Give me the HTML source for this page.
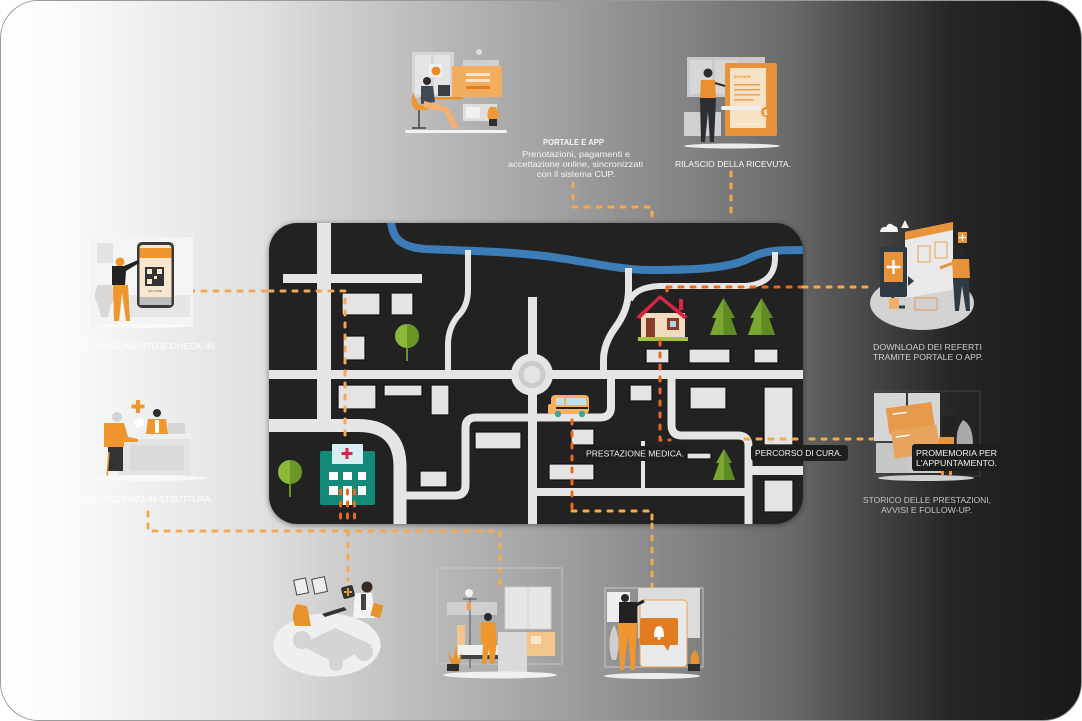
<!DOCTYPE html>
<html><head><meta charset="utf-8">
<style>
html,body{margin:0;padding:0;background:#fff;width:1082px;height:721px;overflow:hidden}
svg{display:block}
text{font-family:"Liberation Sans",Arial,sans-serif}
.dl{fill:none;stroke:#f5a94e;stroke-width:3;stroke-linecap:round;stroke-dasharray:4 8}
.dd{fill:none;stroke:#e8691e;stroke-width:3;stroke-linecap:round;stroke-dasharray:4 8}
.bd{fill:#e4e4e4;stroke:#111;stroke-width:1.2}
</style></head><body>
<svg width="1082" height="721" viewBox="0 0 1082 721" xmlns="http://www.w3.org/2000/svg">
<defs>
<linearGradient id="bg" x1="0" y1="0" x2="1082" y2="0" gradientUnits="userSpaceOnUse">
<stop offset="0" stop-color="#ffffff"/>
<stop offset="0.055" stop-color="#fbfbfb"/>
<stop offset="0.24" stop-color="#e0e0e0"/>
<stop offset="0.37" stop-color="#c0c0c0"/>
<stop offset="0.49" stop-color="#a6a6a6"/>
<stop offset="0.647" stop-color="#808080"/>
<stop offset="0.73" stop-color="#6a6a6a"/>
<stop offset="0.795" stop-color="#4a4a4a"/>
<stop offset="0.878" stop-color="#262626"/>
<stop offset="1" stop-color="#181818"/>
</linearGradient>
<clipPath id="mapclip"><rect x="269" y="223" width="534" height="301" rx="28"/></clipPath>
<filter id="sh" x="-10%" y="-10%" width="120%" height="120%"><feDropShadow dx="0" dy="1" stdDeviation="3" flood-color="#000" flood-opacity="0.45"/></filter>
</defs>

<!-- frame -->
<rect x="0.5" y="0.5" width="1081" height="720" rx="38" fill="url(#bg)" stroke="#9a9a9a" stroke-width="1"/>

<!-- ===== MAP ===== -->
<rect x="269" y="223" width="534" height="301" rx="28" fill="#222" filter="url(#sh)"/>
<g clip-path="url(#mapclip)">
  <!-- river -->
  <path d="M391,220 C392,238 400,247 425,249 C470,251 500,251 545,256 C590,262 620,270 650,270 C700,270 730,268 750,258 C765,250 780,250 806,250" fill="none" stroke="#3c7db8" stroke-width="8"/>
  <!-- roads -->
  <g fill="#e5e5e5">
    <rect x="317" y="223" width="14" height="208"/>
    <rect x="283" y="274" width="139" height="9"/>
    <rect x="269" y="370" width="534" height="9"/>
    <rect x="528" y="297" width="9" height="227"/>
    <rect x="748" y="466" width="55" height="9"/>
    <rect x="532" y="488" width="216" height="8"/>
    <rect x="641" y="441" width="4" height="48"/>
  </g>
  <g fill="none" stroke="#e5e5e5">
    <path d="M269,425.5 H358 Q400,425.5 400,467 V530" stroke-width="13"/>
    <path d="M468,250 V290 Q468,306 458,316 Q448,328 448,345 V372" stroke-width="6"/>
    <path d="M405,495.5 H455 Q465.5,495.5 465.5,485 V428 Q465.5,417.5 476,417.5 H600 Q611,417.5 611,407 V375" stroke-width="8"/>
    <path d="M628.5,268 V290 Q628.5,310 615,328 Q603.5,344 603.5,360 V375" stroke-width="7"/>
    <path d="M630,300 Q636,287 660,286 H745 Q775,284 775,258 V252" stroke-width="6"/>
    <path d="M671.5,375 V425 Q671.5,435.5 682,435.5 H738 Q748.5,435.5 748.5,446 V530" stroke-width="8"/>
  </g>
  <circle cx="532" cy="374.5" r="21" fill="#e5e5e5"/>
  <circle cx="532" cy="374.5" r="11" fill="none" stroke="#cbcbcb" stroke-width="5"/>

  <!-- buildings -->
  <rect class="bd" x="342" y="293" width="38" height="22"/>
  <rect class="bd" x="391" y="293" width="22" height="22"/>
  <rect class="bd" x="343" y="336" width="22" height="24"/>
  <rect class="bd" x="338" y="385" width="38" height="24"/>
  <rect class="bd" x="384" y="385" width="38" height="11"/>
  <rect class="bd" x="431" y="385" width="18" height="30"/>
  <rect class="bd" x="475" y="432" width="46" height="17"/>
  <rect class="bd" x="420" y="471" width="27" height="16"/>
  <rect class="bd" x="630" y="385" width="22" height="16"/>
  <rect class="bd" x="690" y="387" width="36" height="22"/>
  <rect class="bd" x="764" y="387" width="29" height="58"/>
  <rect class="bd" x="571" y="429" width="23" height="16"/>
  <rect class="bd" x="549" y="464" width="45" height="16"/>
  <rect class="bd" x="687" y="453" width="24" height="6"/>
  <rect class="bd" x="764" y="480" width="29" height="32"/>
  <rect class="bd" x="646" y="349" width="23" height="14"/>
  <rect class="bd" x="689" y="349" width="41" height="14"/>
  <rect class="bd" x="754" y="349" width="24" height="14"/>

  <!-- round trees -->
  <line x1="407" y1="344" x2="407" y2="361" stroke="#6a9628" stroke-width="2"/>
  <circle cx="407" cy="336" r="12" fill="#8ab83a"/>
  <path d="M407,324 A12,12 0 0 1 407,348 Z" fill="#6a9628"/>
  <line x1="290" y1="480" x2="290" y2="497" stroke="#6a9628" stroke-width="2"/>
  <circle cx="290" cy="472" r="12" fill="#8ab83a"/>
  <path d="M290,460 A12,12 0 0 1 290,484 Z" fill="#6a9628"/>

  <!-- pine trees -->
  <polygon points="723.5,298 712,318 716,318 710,335 737,335 731,318 735,318" fill="#7aa632"/>
  <polygon points="723.5,298 723.5,335 737,335 731,318 735,318" fill="#5f8a24"/>
  <polygon points="761.5,298 750,318 754,318 748,335 775,335 769,318 773,318" fill="#7aa632"/>
  <polygon points="761.5,298 761.5,335 775,335 769,318 773,318" fill="#5f8a24"/>
  <polygon points="724,449 716,463 719,463 713,480 735,480 729,463 732,463" fill="#7aa632"/>
  <polygon points="724,449 724,480 735,480 729,463 732,463" fill="#5f8a24"/>

  <!-- house -->
  <rect x="641" y="313" width="44" height="25" fill="#f2dcc0"/>
  <polygon points="636,317 660,295 688,317 684,319 660,299 640,319" fill="#d8254a"/>
  <rect x="679" y="299" width="4" height="11" fill="#d8254a"/>
  <rect x="646" y="318" width="9" height="19" fill="#8b3a2a"/>
  <rect x="667" y="318" width="12" height="12" fill="#8b3a2a"/>
  <rect x="670" y="321" width="6" height="6" fill="#a9d6e5"/>
  <rect x="638" y="337" width="50" height="4" fill="#a8c040"/>

  <!-- bus -->
  <rect x="551" y="395" width="38" height="19" rx="4" fill="#f5b060"/>
  <rect x="548" y="404" width="8" height="10" rx="2" fill="#f5b060"/>
  <rect x="556" y="398" width="8" height="7" fill="#bfe0ee"/>
  <rect x="566" y="398" width="20" height="7" fill="#bfe0ee"/>
  <rect x="556" y="407" width="32" height="2" fill="#222"/>
  <circle cx="558" cy="414" r="3.2" fill="#3aa6a0"/>
  <circle cx="582" cy="414" r="3.2" fill="#3aa6a0"/>

  <!-- hospital -->
  <rect x="320" y="451" width="55" height="54" rx="2" fill="#138a78"/>
  <rect x="332" y="444" width="31" height="20" rx="1" fill="#d8eef5"/>
  <rect x="345.5" y="448" width="3" height="11" fill="#d8254a"/>
  <rect x="341.5" y="452" width="11" height="3" fill="#d8254a"/>
  <g fill="#fff">
    <rect x="329" y="472" width="9" height="8"/><rect x="343" y="472" width="9" height="8"/><rect x="358" y="472" width="8" height="8"/>
    <rect x="329" y="486" width="9" height="9"/><rect x="343" y="486" width="9" height="19"/><rect x="358" y="486" width="8" height="9"/>
  </g>

  <!-- in-map connectors -->
  <path class="dl" d="M269,291 H345 V440"/>
  <path class="dd" d="M340.5,490 V531 M347.5,490 V531 M354.5,490 V531"/>
  <path class="dd" d="M572,420 V511"/>
  <path class="dl" d="M572,511 H652 V530"/>
  <path class="dd" d="M667,287 H803"/>
  <path class="dd" d="M667,287 V298"/>
  <path class="dd" d="M660,341 V440 H670"/>
  <path class="dl" d="M745,439 H810"/>
  <path class="dl" d="M652,216 V226 M731,216 V226"/>
</g>

<!-- map labels -->
<rect x="583" y="446" width="103" height="15" rx="2" fill="#1e1e1e"/>
<text x="586" y="456.5" font-size="8.5" fill="#f2f2f2" textLength="98" lengthAdjust="spacingAndGlyphs">PRESTAZIONE MEDICA.</text>
<rect x="751" y="445" width="97" height="16" rx="3" fill="#1e1e1e"/>
<text x="755" y="456" font-size="8.5" fill="#f2f2f2" textLength="87" lengthAdjust="spacingAndGlyphs">PERCORSO DI CURA.</text>

<!-- outer connectors -->
<path class="dl" d="M190,291 H269"/>
<path class="dl" d="M148,512 V531 H500 V588"/>
<path class="dl" d="M348,531 V580"/>
<path class="dl" d="M652,524 V590"/>
<path class="dl" d="M573,183 V207 H652 V220"/>
<path class="dl" d="M731,172 V220"/>
<path class="dl" d="M803,287 H872"/>
<path class="dl" d="M810,439 H877"/>

<!-- ===== A: portal ===== -->
<g>
<rect x="412" y="52" width="42" height="46" fill="#d6d6d6"/>
<rect x="415" y="55" width="16" height="40" fill="#e4e4e4"/>
<rect x="434" y="55" width="16" height="40" fill="#e4e4e4"/>
<circle cx="479" cy="52" r="3" fill="#e0e0e0"/>
<rect x="463" y="60" width="36" height="8" fill="#cfcfcf"/>
<rect x="452" y="66" width="50" height="31" fill="#f2ad5e"/>
<rect x="466" y="73" width="24" height="3" fill="#fbe3c4"/>
<rect x="466" y="79" width="24" height="3" fill="#fbe3c4"/>
<rect x="466" y="86" width="24" height="3" fill="#e57d22"/>
<rect x="429" y="64" width="13" height="13" fill="#f0f0f0"/>
<circle cx="436" cy="71" r="4.5" fill="#ee8a2a"/>
<rect x="438" y="85" width="12" height="11" fill="#3b3f44"/>
<rect x="420" y="97" width="43" height="2.5" fill="#e8902e"/>
<rect x="463" y="104" width="34" height="17" fill="#dedede"/>
<rect x="466" y="107" width="14" height="11" fill="#f1f1f1"/>
<path d="M413,92 Q409,105 416,110 L428,110 L428,106 L418,104 Z" fill="#ee9630"/>
<circle cx="427" cy="81" r="4" fill="#2d2d2d"/>
<path d="M421,86 L433,86 L435,102 L421,104 Z" fill="#3f4a55"/>
<path d="M424,101 L448,107 L459,128 L453,129 L444,112 L424,107 Z" fill="#f3b070"/>
<path d="M419,110 V128 M412,128 H426" stroke="#444" stroke-width="1.5"/>
<path d="M490,107 q-4,6 -2,12 h10 q2,-6 -2,-12 z" fill="#ee9a36"/>
<rect x="489" y="119" width="8" height="7" fill="#2f2f2f"/>
<rect x="405" y="130" width="102" height="3" rx="1.5" fill="#f2f2f2"/>
</g>

<!-- ===== B: invoice ===== -->
<g>
<rect x="687" y="57" width="78" height="40" fill="#c9c9c9"/>
<rect x="690" y="60" width="22" height="34" fill="#d6d6d6"/>
<rect x="715" y="60" width="22" height="34" fill="#d6d6d6"/>
<rect x="684" y="112" width="37" height="24" fill="#d0d0d0"/>
<rect x="725" y="63" width="52" height="73" rx="2" fill="#e8923a"/>
<rect x="730" y="68" width="36" height="60" fill="#f8e2c6"/>
<text x="734" y="78" font-size="4" fill="#e8923a" font-weight="bold">INVOICE</text>
<rect x="734" y="84" width="26" height="1.5" fill="#e8a25a"/>
<rect x="734" y="89" width="26" height="1.5" fill="#e8a25a"/>
<rect x="734" y="94" width="26" height="1.5" fill="#e8a25a"/>
<rect x="734" y="99" width="20" height="1.5" fill="#e8a25a"/>
<circle cx="766" cy="112" r="5" fill="#e8923a"/>
<text x="763.5" y="115" font-size="7" fill="#fff" font-weight="bold">$</text>
<rect x="721" y="106" width="40" height="4" rx="2" fill="#ededed"/>
<rect x="734" y="123" width="26" height="2" fill="#fbe8d2"/>
<circle cx="708" cy="73" r="4.5" fill="#2c2c2c"/>
<path d="M701,80 h14 l1,18 h-16 z" fill="#ea8f2f"/>
<path d="M715,83 L725,86" stroke="#2c2c2c" stroke-width="2"/>
<path d="M700,98 h16 l-2,44 h-4 l-2,-30 l-3,30 h-4 z" fill="#2b2f33"/>
<ellipse cx="732" cy="146" rx="48" ry="2.5" fill="#ececec"/>
</g>

<!-- ===== C: QR ===== -->
<g>
<rect x="90" y="237" width="103" height="90" fill="#f4f4f4"/>
<rect x="97" y="243" width="16" height="20" fill="#e3e3e3"/>
<path d="M98,285 q-6,10 0,20 l3,12 h7 l3,-12 q6,-10 0,-20 z" fill="#d8d8d8"/>
<rect x="125" y="295" width="65" height="22" fill="#e6e6e6"/>
<rect x="137" y="242" width="37" height="66" rx="5" fill="#3a3a3a"/>
<rect x="139.5" y="245" width="32" height="60" rx="3" fill="#f8e6cf"/>
<rect x="139.5" y="248" width="32" height="10" fill="#f0962f"/>
<rect x="145" y="267" width="19" height="19" fill="#333"/>
<rect x="147" y="269" width="5" height="5" fill="#f8e6cf"/><rect x="157" y="269" width="5" height="5" fill="#f8e6cf"/><rect x="147" y="279" width="5" height="5" fill="#f8e6cf"/><rect x="154" y="276" width="3" height="3" fill="#f8e6cf"/>
<text x="148" y="292" font-size="3" fill="#555">QR CODE</text>
<rect x="139.5" y="297" width="32" height="8" fill="#bdbdbd"/>
<circle cx="120" cy="262" r="4.5" fill="#f0962f"/>
<path d="M112,266 h12 l14,-6 l1,3 l-13,8 l-1,14 h-13 z" fill="#222"/>
<path d="M113,285 h15 l2,36 h-4 l-4,-28 l-3,28 h-5 z" fill="#f0962f"/>
<ellipse cx="140" cy="326" rx="45" ry="2" fill="#fafafa"/>
</g>

<!-- ===== D: reception ===== -->
<g>
<path d="M138,400 v13 M131.5,406.5 h13" stroke="#f0962f" stroke-width="4"/>
<rect x="118" y="437" width="72" height="40" fill="#e3e3e3"/>
<rect x="116" y="434" width="76" height="5" fill="#efefef"/>
<rect x="130" y="445" width="54" height="26" fill="#dadada"/>
<rect x="168" y="423" width="17" height="11" fill="#d6d6d6"/>
<circle cx="157" cy="413" r="4" fill="#2a2a2a"/>
<path d="M148,419 h18 l2,15 h-22z" fill="#f0962f"/>
<rect x="155" y="420" width="4" height="13" fill="#fff"/>
<rect x="135" y="419" width="9" height="8" fill="#fff" transform="rotate(-15 139 423)"/>
<circle cx="117" cy="417" r="5" fill="#d2d2d2"/>
<path d="M104,423 h20 l4,14 l10,2 v3 l-14,0 v5 h-20 z" fill="#f0962f"/>
<rect x="108" y="447" width="15" height="24" fill="#333"/>
<line x1="109" y1="452" x2="107" y2="476" stroke="#e8922e" stroke-width="1.5"/>
<ellipse cx="145" cy="478" rx="62" ry="3" fill="#f8f8f8"/>
</g>

<!-- ===== E: download ===== -->
<g>
<ellipse cx="922" cy="303" rx="52" ry="27" fill="#d2d2d2"/>
<path d="M905,232 L953,222 L953,290 L905,298 Z" fill="#e9e9e9"/>
<path d="M905,232 L953,222 L953,230 L905,240 Z" fill="#e8923a"/>
<rect x="918" y="246" width="12" height="16" fill="none" stroke="#e8a25a" stroke-width="1"/>
<rect x="935" y="242" width="12" height="16" fill="none" stroke="#e8a25a" stroke-width="1"/>
<rect x="880" y="247" width="27" height="50" rx="2" fill="#2e3a44"/>
<rect x="884" y="252" width="19" height="30" fill="#e8923a"/>
<path d="M893.5,260 v14 M886.5,267 h14" stroke="#fff" stroke-width="2.5"/>
<path d="M893,297 l-2,10 h14" stroke="#2e3a44" stroke-width="3" fill="none"/>
<path d="M908,276 l6,5 l-6,5 z" fill="#2e3a44"/>
<circle cx="960" cy="253" r="4.5" fill="#2a2a2a"/>
<path d="M952,259 h17 l1,19 h-17 z" fill="#e8923a"/>
<path d="M953,263 l-13,5" stroke="#e8923a" stroke-width="3"/>
<path d="M953,278 h16 l1,33 h-4 l-4,-25 l-3,25 h-4 z" fill="#2e3a44"/>
<path d="M880,232 q1,-6 6,-5 q3,-6 8,-1 q4,0 4,6 z" fill="#f4f4f4"/>
<path d="M901,228 l4,-8 l4,8 z" fill="#f4f4f4"/>
<rect x="958" y="232" width="9" height="11" fill="#e8923a"/>
<path d="M962.5,234 v7 M959,237.5 h7" stroke="#fff" stroke-width="1.2"/>
<rect x="915" y="298" width="22" height="12" fill="none" stroke="#e8923a" stroke-width="0.8"/>
<rect x="889" y="298" width="10" height="11" fill="#f0b070"/>
</g>

<!-- ===== F: storico ===== -->
<g>
<rect x="874" y="391" width="106" height="85" fill="none" stroke="#555" stroke-width="0.6"/>
<rect x="874" y="393" width="32" height="48" fill="#d6d6d6"/>
<rect x="908" y="393" width="32" height="48" fill="#d6d6d6"/>
<rect x="876" y="443" width="32" height="30" fill="#c6c6c6"/>
<rect x="908" y="443" width="34" height="30" fill="#cbcbcb"/>
<g transform="rotate(-8 912 430)">
<rect x="889" y="405" width="46" height="26" fill="#e59a4c"/>
<rect x="891" y="428" width="46" height="28" fill="#e8a45c"/>
<rect x="895" y="411" width="14" height="1.5" fill="#fff"/>
<rect x="895" y="434" width="14" height="1.5" fill="#fff"/>
</g>
<path d="M957,445 q-2,-15 6,-25 q10,5 10,25 z" fill="#a9a9a9"/>
<circle cx="950" cy="412" r="4" fill="#2a2a2a"/>
<rect x="942" y="417" width="15" height="20" fill="#222"/>
<rect x="939" y="437" width="15" height="18" fill="#e8923a"/>
<rect x="941" y="455" width="3" height="20" fill="#e8923a"/>
<rect x="949" y="455" width="3" height="20" fill="#e8923a"/>
<ellipse cx="926" cy="478" rx="48" ry="3" fill="#cfcfcf"/>
</g>

<!-- ===== G: doctor ===== -->
<g>
<ellipse cx="327" cy="645" rx="53" ry="31" fill="#efefef" stroke="#f8f8f8" stroke-width="1.5" stroke-dasharray="1 1"/>
<polygon points="300,645 335,628 372,645 337,664" fill="#d4d4d4"/>
<circle cx="302" cy="640" r="9" fill="#d4d4d4"/>
<circle cx="364" cy="652" r="9" fill="#d4d4d4"/>
<circle cx="336" cy="664" r="7" fill="#d4d4d4"/>
<path d="M297,604 q-7,10 -2,22 h16 l-4,-20 z" fill="#e8922e"/>
<rect x="295" y="579" width="12" height="15" fill="#eee" stroke="#444" stroke-width="1" transform="rotate(-12 301 586)"/>
<rect x="313" y="578" width="13" height="15" fill="#eee" stroke="#444" stroke-width="1" transform="rotate(-12 319 585)"/>
<rect x="342" y="586" width="12" height="12" rx="2" fill="#333" transform="rotate(-15 348 592)"/>
<path d="M348,588 v8 M344,592 h8" stroke="#e8922e" stroke-width="2"/>
<path d="M322,614 l22,-7 l3,3 l-22,7 z" fill="#333"/>
<circle cx="367" cy="587" r="5.5" fill="#3a2a22"/>
<path d="M355,593 h17 l3,25 h-22 z" fill="#f4f4f4"/>
<rect x="361" y="594" width="5" height="16" fill="#444"/>
<rect x="372" y="604" width="10" height="13" fill="#e8922e" transform="rotate(15 377 610)"/>
</g>

<!-- ===== H: bed ===== -->
<g>
<rect x="437" y="568" width="125" height="96" fill="none" stroke="#c6c6c6" stroke-width="1"/>
<rect x="505" y="587" width="46" height="42" fill="#e6e6e6" stroke="#cfcfcf"/>
<line x1="528" y1="587" x2="528" y2="629" stroke="#d0d0d0"/>
<rect x="447" y="602" width="50" height="13" fill="#cfcfcf"/>
<circle cx="469" cy="593" r="4" fill="#f0f0f0"/>
<line x1="470" y1="598" x2="470" y2="668" stroke="#555" stroke-width="1"/>
<line x1="463" y1="599" x2="477" y2="599" stroke="#555"/>
<rect x="467" y="602" width="4" height="8" fill="#f0a050"/>
<rect x="457" y="625" width="8" height="34" fill="#f2c58e"/>
<rect x="458" y="645" width="45" height="10" fill="#f0f0f0"/>
<rect x="460" y="655" width="42" height="4" fill="#444"/>
<circle cx="488" cy="617" r="4" fill="#2a2a2a"/>
<path d="M481,622 h14 l2,20 h-16 z" fill="#f0962f"/>
<path d="M483,642 h14 l-3,22 h-4 l-1,-15 l-3,15 h-4 z" fill="#f0962f"/>
<rect x="498" y="632" width="29" height="40" fill="#dadada"/>
<rect x="527" y="632" width="28" height="24" fill="#f3c68c"/>
<rect x="531" y="636" width="10" height="8" fill="#fbe6c8"/>
<path d="M453,672 l-5,-20 l5,8 l3,-14 l2,14 l4,-8 l-4,20 z" fill="#e8922e"/>
<rect x="447" y="664" width="12" height="7" fill="#2d2d2d"/>
<ellipse cx="500" cy="675" rx="57" ry="3.5" fill="#f0f0f0"/>
</g>

<!-- ===== I: phone ===== -->
<g>
<rect x="605" y="588" width="98" height="79" fill="none" stroke="#c8c8c8"/>
<rect x="607" y="592" width="23" height="30" fill="#efefef"/>
<rect x="638" y="588" width="62" height="50" fill="#dcdcdc"/>
<rect x="640" y="600" width="47" height="67" rx="4" fill="#e9e9e9" stroke="#f0a050" stroke-width="1"/>
<rect x="640" y="618" width="38" height="27" rx="2" fill="#e07b22"/>
<path d="M664,645 l4,6 l2,-6 z" fill="#e07b22"/>
<path d="M654,637 q0,-11 5,-11 q5,0 5,11 z" fill="#fff"/>
<circle cx="659" cy="638.5" r="1.5" fill="#fff"/>
<circle cx="625" cy="598" r="4" fill="#2a2a2a"/>
<rect x="619" y="602" width="18" height="21" fill="#222"/>
<path d="M636,605 l8,-4" stroke="#222" stroke-width="3"/>
<path d="M618,623 h19 l-2,47 h-4 l-3,-35 l-4,35 h-4 z" fill="#f0962f"/>
<path d="M612,660 q-6,-20 2,-35 q8,15 2,35 z" fill="#cfcfcf"/>
<path d="M692,668 q-4,-12 3,-18 q6,6 3,18 z" fill="#e8922e"/>
<rect x="688" y="664" width="12" height="7" fill="#2d2d2d"/>
<ellipse cx="652" cy="676" rx="48" ry="3" fill="#ececec"/>
</g>

<!-- ===== texts ===== -->
<text x="543" y="145" font-size="8.5" font-weight="bold" fill="#f5f5f5" textLength="61" lengthAdjust="spacingAndGlyphs">PORTALE E APP</text>
<text x="522" y="157" font-size="8.5" fill="#f5f5f5" textLength="108" lengthAdjust="spacingAndGlyphs">Prenotazioni, pagamenti e</text>
<text x="508" y="167" font-size="8.5" fill="#f5f5f5" textLength="135" lengthAdjust="spacingAndGlyphs">accettazione online, sincronizzati</text>
<text x="537" y="177" font-size="8.5" fill="#f5f5f5" textLength="78" lengthAdjust="spacingAndGlyphs">con il sistema CUP.</text>
<text x="675" y="167" font-size="8.5" fill="#fafafa" textLength="116" lengthAdjust="spacingAndGlyphs">RILASCIO DELLA RICEVUTA.</text>
<text x="873" y="350" font-size="8.5" fill="#cfcfcf" textLength="109" lengthAdjust="spacingAndGlyphs">DOWNLOAD DEI REFERTI</text>
<text x="873" y="360" font-size="8.5" fill="#cfcfcf" textLength="110" lengthAdjust="spacingAndGlyphs">TRAMITE PORTALE O APP.</text>
<rect x="912" y="444" width="88" height="27" rx="3" fill="#1e1e1e"/>
<text x="916" y="456" font-size="8.5" fill="#f2f2f2" textLength="81" lengthAdjust="spacingAndGlyphs">PROMEMORIA PER</text>
<text x="916" y="466" font-size="8.5" fill="#f2f2f2" textLength="81" lengthAdjust="spacingAndGlyphs">L'APPUNTAMENTO.</text>
<text x="863" y="503" font-size="8.5" fill="#c4c4c4" textLength="128" lengthAdjust="spacingAndGlyphs">STORICO DELLE PRESTAZIONI,</text>
<text x="881" y="513" font-size="8.5" fill="#c4c4c4" textLength="91" lengthAdjust="spacingAndGlyphs">AVVISI E FOLLOW-UP.</text>
<text x="73" y="349" font-size="8.5" fill="#ffffff" textLength="144" lengthAdjust="spacingAndGlyphs">RICONOSCIMENTO E CHECK-IN.</text>
<text x="85" y="502" font-size="8.5" fill="#ffffff" textLength="128" lengthAdjust="spacingAndGlyphs">ACCOGLIENZA IN STRUTTURA.</text>
</svg>
</body></html>
